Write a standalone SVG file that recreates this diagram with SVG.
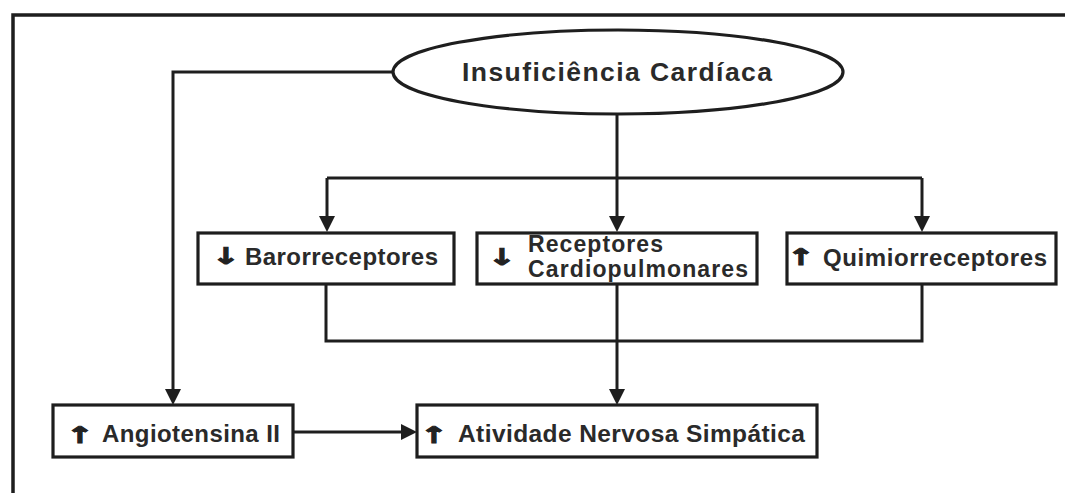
<svg xmlns="http://www.w3.org/2000/svg" width="1065" height="493" viewBox="0 0 1065 493">
<defs>
<style>
.frame{fill:none;stroke:#1e1e1e;stroke-width:3.5}
.box{fill:#fff;stroke:#1e1e1e;stroke-width:3.2}
.ln{fill:none;stroke:#1e1e1e;stroke-width:3}
.t{font-family:"Liberation Sans",Arial,sans-serif;font-weight:bold;fill:#2a2a2a}
.ar{font-family:"DejaVu Sans",sans-serif;font-weight:bold;font-size:25px;fill:#222;stroke:#222;stroke-width:1;text-anchor:middle}
</style>
<marker id="ah" viewBox="0 0 16 16" refX="4" refY="8" markerWidth="16" markerHeight="16" markerUnits="userSpaceOnUse" orient="auto">
<path d="M0,0 L16,8 L0,16 z" fill="#1e1e1e"/>
</marker>
</defs>
<rect width="1065" height="493" fill="#fff"/>
<path class="frame" d="M13,493 V15 H1065"/>
<g id="connectors">
<path class="ln" d="M393,72 H173 V393" marker-end="url(#ah)"/>
<path class="ln" d="M617,115 V220" marker-end="url(#ah)"/>
<path class="ln" d="M327,178 H922"/>
<path class="ln" d="M327,178 V220" marker-end="url(#ah)"/>
<path class="ln" d="M922,178 V220" marker-end="url(#ah)"/>
<path class="ln" d="M326,284 V341 H922 V284"/>
<path class="ln" d="M617,283 V393" marker-end="url(#ah)"/>
<path class="ln" d="M293,432 H405" marker-end="url(#ah)"/>
</g>
<g id="insuficiencia">
<ellipse cx="618" cy="72" rx="225" ry="42" class="box"/>
<text class="t" x="462" y="81" font-size="26.5" textLength="310" lengthAdjust="spacing">Insuficiência Cardíaca</text>
</g>
<g id="barorreceptores">
<rect class="box" x="198" y="233" width="256" height="51"/>
<text class="ar" transform="translate(226,264) scale(1.35,0.92)">↓</text>
<text class="t" x="245" y="265" font-size="24" textLength="193" lengthAdjust="spacing">Barorreceptores</text>
</g>
<g id="cardiopulmonares">
<rect class="box" x="477" y="233" width="280" height="51"/>
<text class="ar" transform="translate(502,265) scale(1.35,0.92)">↓</text>
<text class="t" x="528" y="252" font-size="23" textLength="135" lengthAdjust="spacing">Receptores</text>
<text class="t" x="528" y="277" font-size="23" textLength="220" lengthAdjust="spacing">Cardiopulmonares</text>
</g>
<g id="quimiorreceptores">
<rect class="box" x="787" y="233" width="269" height="51"/>
<text class="ar" transform="translate(801,265) scale(1.35,0.92)">↑</text>
<text class="t" x="823" y="266" font-size="24" textLength="224" lengthAdjust="spacing">Quimiorreceptores</text>
</g>
<g id="angiotensina">
<rect class="box" x="53" y="405" width="240" height="52"/>
<text class="ar" transform="translate(80,443) scale(1.35,0.92)">↑</text>
<text class="t" x="102" y="442" font-size="24" textLength="178" lengthAdjust="spacing">Angiotensina II</text>
</g>
<g id="atividade">
<rect class="box" x="417" y="405" width="400" height="52"/>
<text class="ar" transform="translate(434,443) scale(1.35,0.92)">↑</text>
<text class="t" x="458" y="442" font-size="24.5" textLength="347" lengthAdjust="spacing">Atividade Nervosa Simpática</text>
</g>
</svg>
